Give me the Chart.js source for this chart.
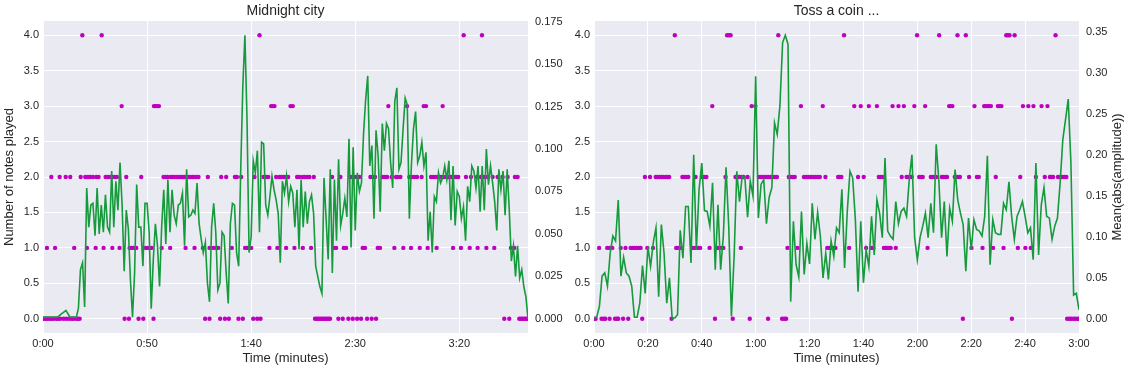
<!DOCTYPE html>
<html>
<head>
<meta charset="utf-8">
<script src="https://cdn.jsdelivr.net/npm/chart.js@4/dist/chart.umd.min.js"></script>
<style>
  body { margin: 0; background: #fff; }
  .wrap { position: relative; width: 1132px; height: 375px; }
  canvas { position: absolute; top: 0; }
  #cityChart { left: 0; }
  #coinChart { left: 566px; }
</style>
</head>
<body>
<div class="wrap">
  <canvas id="cityChart" width="566" height="375"></canvas>
  <canvas id="coinChart" width="566" height="375"></canvas>
</div>
<script>
// one amplitude value per frame
const frameSec = 1

const noteTicks = [0, 0.5, 1, 1.5, 2, 2.5, 3, 3.5, 4]
const cityAmpTicks = [0, 0.025, 0.05, 0.075, 0.1, 0.125, 0.15, 0.175]
const coinAmpTicks = [0, 0.05, 0.1, 0.15, 0.2, 0.25, 0.3, 0.35]
const cityTimeTicks = [0, 50, 100, 150, 200]
const cityTimeLabels = ["0:00", "0:50", "1:40", "2:30", "3:20"]
const coinTimeTicks = [0, 20, 40, 60, 80, 100, 120, 140, 160, 180]
const coinTimeLabels = ["0:00", "0:20", "0:40", "1:00", "1:20", "1:40", "2:00", "2:20", "2:40", "3:00"]

// Midnight city: mean(abs(amplitude)) per frame
const cityAmp = [
  0.001, 0.001, 0.001, 0.001, 0.001, 0.001, 0.001, 0.001, 0.002, 0.003, 0.004, 0.005, 0.003, 0.001, 0.001, 0.001, 0.001,
  0.006, 0.029, 0.033, 0.007, 0.077, 0.054, 0.067, 0.068, 0.049, 0.077,
  0.050, 0.067, 0.051, 0.073, 0.054, 0.051, 0.087, 0.054, 0.081, 0.064,
  0.092, 0.067, 0.028, 0.064, 0.053, 0.023, 0.001, 0.027, 0.079, 0.054,
  0.054, 0.031, 0.068, 0.068, 0.051, 0.006, 0.035, 0.056, 0.043, 0.019,
  0.054, 0.076, 0.044, 0.082, 0.051, 0.076, 0.061, 0.056, 0.067, 0.068,
  0.074, 0.043, 0.088, 0.060, 0.061, 0.064, 0.062, 0.080, 0.056, 0.047,
  0.039, 0.045, 0.021, 0.010, 0.054, 0.068, 0.051, 0.017, 0.021, 0.051,
  0.049, 0.027, 0.009, 0.056, 0.068, 0.067, 0.039, 0.031, 0.088, 0.137,
  0.167, 0.118, 0.039, 0.048, 0.093, 0.086, 0.099, 0.051, 0.104, 0.103,
  0.067, 0.061, 0.072, 0.084, 0.076, 0.070, 0.062, 0.033, 0.081, 0.074,
  0.084, 0.069,
  0.078, 0.074, 0.054, 0.076, 0.041, 0.082, 0.054, 0.075, 0.056, 0.069,
  0.073, 0.062, 0.031, 0.025, 0.019, 0.015, 0.083, 0.059, 0.035, 0.088,
  0.027, 0.082, 0.046, 0.094, 0.055, 0.062, 0.071, 0.060, 0.106, 0.042,
  0.101, 0.052, 0.086, 0.075, 0.080, 0.109, 0.129, 0.143, 0.090, 0.102,
  0.059, 0.111, 0.096, 0.063, 0.115, 0.099, 0.115, 0.112, 0.092, 0.077,
  0.128, 0.136, 0.088, 0.092, 0.112, 0.130, 0.126, 0.059, 0.091, 0.112,
  0.122, 0.092, 0.096, 0.104, 0.090, 0.098, 0.046, 0.063, 0.039, 0.072,
  0.069, 0.086, 0.080, 0.083, 0.090, 0.082, 0.093, 0.058, 0.090, 0.055,
  0.075, 0.072, 0.059, 0.066, 0.046, 0.078, 0.069, 0.090, 0.087, 0.077,
  0.090, 0.063, 0.090, 0.064, 0.100, 0.079, 0.090, 0.080, 0.069, 0.052,
  0.088, 0.076, 0.087, 0.061, 0.088, 0.064, 0.034, 0.043, 0.025, 0.043,
  0.024, 0.029, 0.019, 0.013, 0.000
]

// Midnight city: times (s) at which 0..4 notes were played
const cityTimes0 = [0.3, 1.3, 2.2, 3.2, 4.2, 5.1, 6.4, 7.2, 8.3, 9.9, 11.2, 12.5, 13.8, 14.7, 16.0, 16.8, 17.6,
  39.2, 41.3, 45.9, 48.2, 53.1, 77.9, 80.0, 85.1, 87.4, 89.3, 93.9, 96.0, 101.0, 102.9, 104.5,
  130.7, 131.5, 132.3, 133.1, 133.9, 134.7, 135.5, 136.3, 137.1, 137.9, 141.9, 144.0, 146.7, 148.8,
  150.9, 152.8, 155.7, 157.9, 160.0, 221.6, 224.0, 228.8, 229.6, 230.4, 231.2, 232.0, 232.8]
const cityTimes1 = [1.9, 5.8, 15.0, 21.1, 25.3, 29.1, 33.3, 36.8, 41.6, 42.6, 43.5, 44.8, 49.3, 50.2, 51.2, 52.2,
  57.0, 61.1, 68.5, 72.8, 76.8, 80.0, 81.9, 83.2, 84.2, 90.7, 97.1, 98.1, 99.0, 100.0, 108.8, 112.6, 116.8,
  120.8, 124.8, 128.8, 139.7, 140.8, 144.5, 145.6, 153.6, 154.7, 160.8, 161.9, 168.8, 173.1, 176.8, 181.0,
  184.8, 189.1, 197.0, 200.8, 205.0, 208.8, 213.0, 216.8, 224.8, 226.4]
const cityTimes2 = [4.0, 8.0, 10.9, 13.1, 18.1, 20.3, 21.6, 22.7, 24.0, 25.6, 26.7, 30.1, 31.2, 32.3, 33.3, 34.4,
  35.5, 40.0, 47.2, 57.9, 58.9, 59.8, 61.3, 62.1, 63.0, 64.0, 65.0, 65.9, 66.9, 67.8, 68.8, 69.8, 70.7, 71.7,
  72.6, 73.6, 74.7, 79.2, 85.6, 88.0, 92.2, 93.1, 95.2, 101.6, 105.9, 107.2, 108.2, 112.0, 113.6, 114.6,
  115.7, 116.8, 117.8, 122.1, 123.2, 124.8, 125.6, 126.9, 128.0, 130.1, 138.9, 142.9, 147.7, 148.8, 149.9,
  150.9, 152.0, 157.3, 158.4, 159.5, 163.2, 164.3, 165.3, 167.5, 169.6, 170.4, 171.7, 176.0, 177.1, 178.4,
  179.7, 181.9, 186.4, 187.5, 188.8, 189.9, 191.2, 192.5, 193.6, 194.7, 196.0, 197.3, 198.4, 199.5, 203.2,
  205.6, 208.5, 210.4, 212.0, 213.6, 216.0, 218.4, 220.8, 223.2, 226.7, 228.0]
const cityTimes3 = [37.8, 53.3, 54.1, 54.9, 55.7, 109.6, 110.4, 111.2, 118.9, 120.0, 165.9, 174.9, 182.9, 184.0, 192.0]
const cityTimes4 = [18.9, 28.2, 104.0, 202.1, 210.9]

// Toss a coin ...: mean(abs(amplitude)) per frame
const coinAmp = [
  0.001, 0.002, 0.015, 0.052, 0.056, 0.040, 0.080, 0.101, 0.095, 0.145,
  0.052, 0.075, 0.056, 0.052, 0.040, 0.002, 0.002, 0.019, 0.065, 0.031,
  0.088, 0.064, 0.093, 0.111, 0.027, 0.115, 0.080, 0.019, 0.050, 0.001,
  0.001, 0.005, 0.108, 0.074, 0.137, 0.137, 0.068, 0.200, 0.084, 0.158,
  0.190, 0.132, 0.131, 0.113, 0.166, 0.060, 0.139, 0.060, 0.101, 0.185,
  0.113, 0.003, 0.076, 0.180, 0.143, 0.174, 0.172, 0.124, 0.168, 0.150,
  0.296, 0.123, 0.164, 0.170, 0.116, 0.148, 0.160, 0.239, 0.225, 0.260,
  0.337, 0.346, 0.335, 0.021, 0.119, 0.066, 0.051, 0.131, 0.054, 0.092,
  0.067, 0.141, 0.097, 0.130, 0.101, 0.050, 0.080, 0.048, 0.095, 0.076,
  0.111, 0.105,
  0.158, 0.062, 0.131, 0.180, 0.172, 0.121, 0.033, 0.119, 0.044, 0.084,
  0.064, 0.125, 0.078, 0.145, 0.129, 0.099, 0.196, 0.107, 0.101, 0.097,
  0.143, 0.116, 0.131, 0.135, 0.125, 0.170, 0.200,
  0.099, 0.072, 0.099, 0.113, 0.129, 0.099, 0.141, 0.105, 0.213, 0.168,
  0.099, 0.143, 0.076, 0.135, 0.119, 0.182, 0.145, 0.129, 0.115, 0.058,
  0.123, 0.084, 0.121, 0.109, 0.107, 0.101, 0.125, 0.199, 0.066, 0.121,
  0.105, 0.103, 0.103, 0.141, 0.133, 0.167, 0.125, 0.097, 0.125, 0.133,
  0.143, 0.125, 0.105, 0.111, 0.072, 0.190, 0.078, 0.139, 0.160, 0.125,
  0.123, 0.097, 0.113, 0.123, 0.166, 0.219, 0.243, 0.268, 0.190, 0.029,
  0.031, 0.011
]

const coinTimes0 = [0.0, 0.6, 2.8, 3.6, 4.2, 5.8, 7.8, 8.5, 9.0, 10.8, 12.7, 17.9, 28.8, 44.9, 51.5, 57.8, 64.6,
  69.8, 70.6, 71.3, 136.9, 155.1, 175.6, 176.4, 177.1, 177.9, 178.6, 179.4, 180.0]
const coinTimes1 = [1.9, 4.9, 5.8, 6.8, 9.9, 11.7, 13.6, 14.3, 15.1, 15.8, 16.6, 17.3, 19.8, 21.9, 30.5, 31.3, 32.0,
  36.5, 37.2, 37.9, 38.7, 39.4, 42.9, 45.7, 46.5, 47.2, 48.0, 54.5, 71.8, 75.5, 86.6, 87.4, 88.1, 88.9, 89.6,
  94.7, 101.0, 103.0, 103.7, 107.6, 108.2, 108.8, 109.4, 110.1, 112.0, 123.8, 140.1, 144.2, 148.1, 152.0,
  157.3, 160.1, 162.1]
const coinTimes2 = [18.9, 20.8, 22.9, 23.6, 24.3, 25.1, 25.8, 26.6, 27.3, 27.9, 32.8, 33.5, 34.2, 35.0, 37.7, 40.2,
  40.9, 41.7, 48.8, 52.5, 53.3, 54.0, 54.8, 55.5, 57.0, 61.2, 61.9, 62.7, 63.4, 64.1, 64.9, 65.6, 66.4, 67.1,
  67.9, 72.3, 73.0, 73.8, 74.5, 77.9, 78.6, 79.4, 80.1, 80.8, 81.6, 82.3, 83.1, 83.8, 85.9, 90.6, 91.2, 91.8,
  98.0, 100.1, 105.7, 106.3, 107.0, 114.2, 116.0, 116.6, 117.3, 117.9, 120.7, 121.4, 122.0, 125.0, 125.7,
  126.3, 127.0, 129.1, 129.7, 130.4, 131.0, 133.9, 134.5, 135.1, 135.8, 139.2, 142.1, 142.8, 149.1, 158.2,
  164.0, 167.3, 169.2, 169.8, 170.4, 172.2, 172.8, 173.4, 174.0, 174.6, 175.3]
const coinTimes3 = [43.9, 58.5, 59.9, 76.8, 84.9, 96.6, 99.0, 102.0, 105.0, 110.8, 113.0, 115.0, 118.9, 122.9,
  131.8, 132.4, 133.0, 141.2, 144.8, 145.4, 146.1, 146.7, 147.3, 149.9, 150.5, 151.2, 159.2, 161.2, 163.1,
  166.1, 168.3]
const coinTimes4 = [30.0, 49.4, 50.1, 50.7, 68.4, 92.8, 119.9, 128.1, 134.9, 138.0, 153.0, 153.6, 154.2, 156.1, 171.3]

const textColor = "#262626"
const green = "#159a3c"
const magenta = "#bf00bf"

Chart.defaults.font.family = "'Liberation Sans', Arial, sans-serif"
Chart.defaults.color = textColor

// matplotlib style 5% margins
function padRange(lo, hi) {
  const m = (hi - lo) * 0.05
  return [lo - m, hi + m]
}

// plot background + panel title + right axis label (drawn bottom-to-top)
const panelDecor = {
  id: "panelDecor",
  beforeDraw(chart, args, opts) {
    const { ctx, chartArea: a } = chart
    ctx.save()
    ctx.fillStyle = "#eaeaf2"
    ctx.fillRect(a.left, a.top, a.right - a.left, a.bottom - a.top)
    ctx.restore()
  },
  afterDraw(chart, args, opts) {
    const { ctx, chartArea: a } = chart
    ctx.save()
    ctx.fillStyle = textColor
    ctx.textAlign = "center"
    ctx.textBaseline = "middle"
    ctx.font = "14px 'Liberation Sans', Arial, sans-serif"
    ctx.fillText(opts.title, (a.left + a.right) / 2, 11.5)
    if (opts.rightLabel) {
      ctx.font = "13px 'Liberation Sans', Arial, sans-serif"
      ctx.translate(chart.width - 14.5, (a.top + a.bottom) / 2)
      ctx.rotate(-Math.PI / 2)
      ctx.fillText(opts.rightLabel, 0, 0)
    }
    ctx.restore()
  }
}

function buildPanel(canvasId, p) {
  const line = p.amp.map((v, i) => ({ x: i * frameSec, y: v }))
  const dots = []
  p.noteTimes.forEach((times, count) => times.forEach(t => dots.push({ x: t, y: count })))

  const noteRange = padRange(0, 4)
  const ampRange = padRange(0, Math.max(...p.amp))

  return new Chart(document.getElementById(canvasId), {
    type: "scatter",
    data: {
      datasets: [
        {
          type: "line",
          data: line,
          yAxisID: "amp",
          borderColor: green,
          borderWidth: 1.6,
          pointRadius: 0,
          tension: 0,
          order: 0
        },
        {
          type: "scatter",
          data: dots,
          yAxisID: "notes",
          backgroundColor: magenta,
          borderWidth: 0,
          pointRadius: 2.2,
          order: 1
        }
      ]
    },
    options: {
      responsive: false,
      animation: false,
      events: [],
      layout: { padding: { top: 21 } },
      scales: {
        x: {
          type: "linear",
          min: 0,
          max: p.xMax,
          afterBuildTicks: s => { s.ticks = p.timeTicks.map(v => ({ value: v })) },
          afterFit: s => { s.height = 42 },
          grid: { color: "#ffffff", lineWidth: 1, drawTicks: false },
          border: { display: false },
          ticks: {
            autoSkip: false,
            maxRotation: 0,
            padding: 4,
            font: { size: 11 },
            callback: (v, i) => p.timeLabels[i]
          },
          title: {
            display: true,
            text: "Time (minutes)",
            font: { size: 13 },
            padding: { top: 0, bottom: 9 }
          }
        },
        notes: {
          type: "linear",
          position: "left",
          min: noteRange[0],
          max: noteRange[1],
          afterBuildTicks: s => { s.ticks = noteTicks.map(v => ({ value: v })) },
          afterFit: s => { s.width = p.leftW },
          grid: { color: "#ffffff", lineWidth: 1, drawTicks: false },
          border: { display: false },
          ticks: { padding: 4, font: { size: 11 }, callback: v => v.toFixed(1) },
          title: {
            display: !!p.leftLabel,
            text: p.leftLabel || "",
            font: { size: 13 },
            padding: { top: 2, bottom: 0 }
          }
        },
        amp: {
          type: "linear",
          position: "right",
          min: ampRange[0],
          max: ampRange[1],
          afterBuildTicks: s => { s.ticks = p.ampTicks.map(v => ({ value: v })) },
          afterFit: s => { s.width = p.rightW },
          grid: { display: false, drawTicks: false },
          border: { display: false },
          ticks: { padding: 7, font: { size: 11 }, callback: v => v.toFixed(p.ampDigits) }
        }
      },
      plugins: {
        legend: { display: false },
        tooltip: { enabled: false },
        panelDecor: { title: p.title, rightLabel: p.rightLabel }
      }
    },
    plugins: [panelDecor]
  })
}

buildPanel("cityChart", {
  title: "Midnight city",
  amp: cityAmp,
  noteTimes: [cityTimes0, cityTimes1, cityTimes2, cityTimes3, cityTimes4],
  xMax: 233,
  timeTicks: cityTimeTicks,
  timeLabels: cityTimeLabels,
  ampTicks: cityAmpTicks,
  ampDigits: 3,
  leftLabel: "Number of notes played",
  leftW: 43,
  rightW: 38
})

buildPanel("coinChart", {
  title: "Toss a coin ...",
  amp: coinAmp,
  noteTimes: [coinTimes0, coinTimes1, coinTimes2, coinTimes3, coinTimes4],
  xMax: 180,
  timeTicks: coinTimeTicks,
  timeLabels: coinTimeLabels,
  ampTicks: coinAmpTicks,
  ampDigits: 2,
  rightLabel: "Mean(abs(amplitude))",
  leftW: 28,
  rightW: 53
})
</script>
</body>
</html>
